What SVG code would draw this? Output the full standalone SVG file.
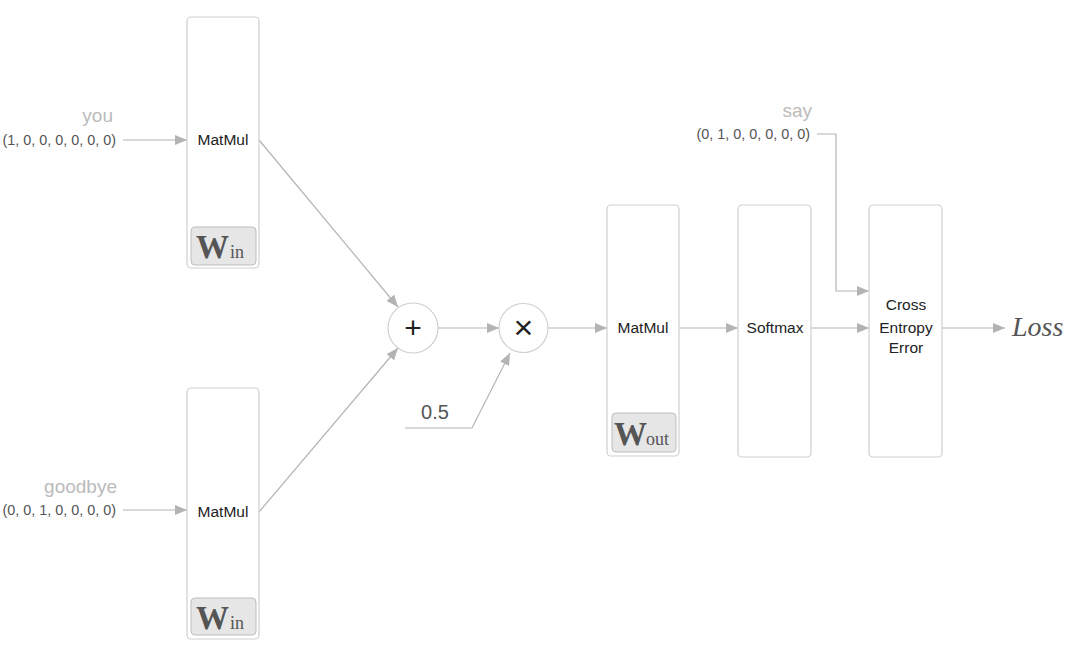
<svg xmlns="http://www.w3.org/2000/svg" width="1070" height="646" viewBox="0 0 1070 646">
<style>
.box{fill:#fff;stroke:#cfcfcf;stroke-width:1.2}
.wbox{fill:#e6e6e6;stroke:#bdbdbd;stroke-width:1}
.lbl{font-family:"Liberation Sans",Arial,sans-serif;font-size:15.5px;fill:#222;text-anchor:middle}
.vec{font-family:"Liberation Sans",Arial,sans-serif;font-size:14.4px;fill:#555;text-anchor:end}
.word{font-family:"Liberation Sans",Arial,sans-serif;font-size:19px;fill:#bbb;text-anchor:end}
.w{font-family:"Liberation Serif","Times New Roman",serif;fill:#555}
.con{fill:none;stroke:#b3b3b3;stroke-width:1.2}
.op{fill:#fff;stroke:#cfcfcf;stroke-width:1.2}
.sym{font-family:"Liberation Sans",Arial,sans-serif;fill:#222;text-anchor:middle}
</style>
<defs>
<marker id="arr" viewBox="0 0 12 10" refX="12" refY="5" markerWidth="12" markerHeight="10" markerUnits="userSpaceOnUse" orient="auto">
<path d="M0,0 L12,5 L0,10 z" fill="#b3b3b3"/>
</marker>
</defs>
<rect width="1070" height="646" fill="#fff"/>

<g id="connectors">
<line class="con" x1="123" y1="140" x2="187" y2="140" marker-end="url(#arr)"/>
<line class="con" x1="123" y1="510" x2="187" y2="510" marker-end="url(#arr)"/>
<line class="con" x1="259" y1="140" x2="398" y2="307" marker-end="url(#arr)"/>
<line class="con" x1="259" y1="512" x2="398" y2="348" marker-end="url(#arr)"/>
<line class="con" x1="438" y1="328" x2="499" y2="328" marker-end="url(#arr)"/>
<polyline class="con" points="405,428 472,428 510,353" marker-end="url(#arr)"/>
<line class="con" x1="548" y1="328" x2="607" y2="328" marker-end="url(#arr)"/>
<line class="con" x1="679" y1="328" x2="738" y2="328" marker-end="url(#arr)"/>
<line class="con" x1="811" y1="328" x2="869" y2="328" marker-end="url(#arr)"/>
<polyline class="con" points="817,134 836,134 836,291 869,291" marker-end="url(#arr)"/>
<line class="con" x1="942" y1="328" x2="1005" y2="328" marker-end="url(#arr)"/>
</g>

<g id="input-you">
<text class="word" x="113" y="122">you</text>
<text class="vec" x="116" y="145">(1, 0, 0, 0, 0, 0, 0)</text>
</g>
<g id="input-goodbye">
<text class="word" x="117" y="493">goodbye</text>
<text class="vec" x="116" y="515">(0, 0, 1, 0, 0, 0, 0)</text>
</g>
<g id="input-say">
<text class="word" x="812" y="117">say</text>
<text class="vec" x="810" y="139">(0, 1, 0, 0, 0, 0, 0)</text>
</g>

<g id="matmul-in-top">
<rect class="box" x="187" y="17" width="72" height="251" rx="4"/>
<text class="lbl" x="223" y="145">MatMul</text>
<rect class="wbox" x="191" y="227" width="65" height="38" rx="4"/>
<text class="w" x="196" y="258"><tspan font-size="33" font-weight="bold">W</tspan><tspan font-size="18" dx="1">in</tspan></text>
</g>

<g id="matmul-in-bottom">
<rect class="box" x="187" y="388" width="72" height="251" rx="4"/>
<text class="lbl" x="223" y="517">MatMul</text>
<rect class="wbox" x="191" y="598" width="65" height="37" rx="4"/>
<text class="w" x="196" y="629"><tspan font-size="33" font-weight="bold">W</tspan><tspan font-size="18" dx="1">in</tspan></text>
</g>

<g id="add">
<circle class="op" cx="413" cy="328" r="25"/>
<text class="sym" x="413" y="338" font-size="30">+</text>
</g>

<g id="mul">
<circle class="op" cx="523.5" cy="328" r="24.5"/>
<text class="sym" x="523.5" y="339" font-size="34">×</text>
</g>

<g id="half">
<text x="435" y="419" font-family="Liberation Sans,Arial,sans-serif" font-size="20" fill="#555" text-anchor="middle">0.5</text>
</g>

<g id="matmul-out">
<rect class="box" x="607" y="205" width="72" height="251" rx="4"/>
<text class="lbl" x="643" y="333">MatMul</text>
<rect class="wbox" x="612" y="413" width="64" height="39" rx="4"/>
<text class="w" x="614" y="445"><tspan font-size="33" font-weight="bold">W</tspan><tspan font-size="18" dx="-1">out</tspan></text>
</g>

<g id="softmax">
<rect class="box" x="738" y="205" width="73" height="252" rx="4"/>
<text class="lbl" x="775" y="333">Softmax</text>
</g>

<g id="cross-entropy">
<rect class="box" x="869" y="205" width="73" height="252" rx="4"/>
<text class="lbl" x="906" y="310">Cross</text>
<text class="lbl" x="906" y="333">Entropy</text>
<text class="lbl" x="906" y="353">Error</text>
</g>

<g id="loss">
<text x="1012" y="336" font-family="Liberation Serif,'Times New Roman',serif" font-style="italic" font-size="28" fill="#555">Loss</text>
</g>
</svg>
